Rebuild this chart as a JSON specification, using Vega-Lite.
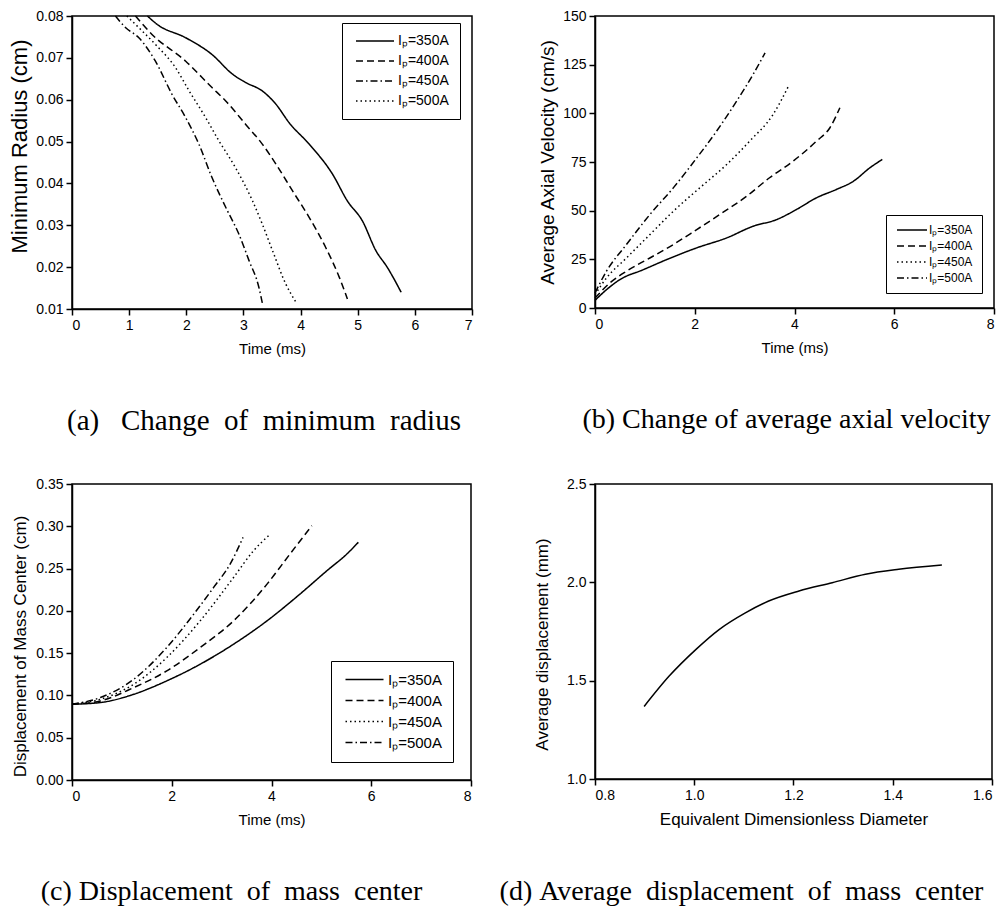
{
  "$schema": "https://vega.github.io/schema/vega-lite/v6.json",
  "padding": {"left": 7, "top": 8, "right": 5, "bottom": 5},
  "background": "white",
  "config": {
    "view": {"stroke": "black", "strokeWidth": 1.5},
    "axis": {"domainColor": "black", "domainWidth": 1.5, "tickColor": "black", "tickWidth": 1.5, "tickSize": 6, "labelColor": "black", "labelFont": "Liberation Sans", "labelFontSize": 14, "labelPadding": 3, "titleColor": "black", "titleFont": "Liberation Sans", "titleFontWeight": "normal", "grid": false},
    "axisX": {"titleFontSize": 15, "titlePadding": 9},
    "axisY": {"titleFontSize": 18, "titleBaseline": "middle"},
    "title": {"font": "Liberation Serif", "fontSize": 28, "fontWeight": "normal", "color": "black", "baseline": "alphabetic"},
    "legend": {"symbolFillColor": "transparent", "symbolStrokeColor": "black", "symbolStrokeWidth": 1.5, "labelFont": "Liberation Sans", "labelColor": "black", "strokeColor": "black", "fillColor": "white"}
  },
  "datasets": {
    "a": [
      {"I":"350","t":1.32,"v":0.080},{"I":"350","t":1.49,"v":0.0780},{"I":"350","t":1.99,"v":0.0748},{"I":"350","t":2.45,"v":0.0708},{"I":"350","t":2.81,"v":0.0661},{"I":"350","t":3.04,"v":0.0641},{"I":"350","t":3.33,"v":0.0621},{"I":"350","t":3.57,"v":0.0589},{"I":"350","t":3.80,"v":0.0545},{"I":"350","t":4.15,"v":0.0494},{"I":"350","t":4.56,"v":0.0422},{"I":"350","t":4.82,"v":0.0358},{"I":"350","t":5.08,"v":0.0311},{"I":"350","t":5.32,"v":0.0239},{"I":"350","t":5.52,"v":0.0199},{"I":"350","t":5.76,"v":0.0140},
      {"I":"400","t":1.11,"v":0.080},{"I":"400","t":1.40,"v":0.0756},{"I":"400","t":1.99,"v":0.0692},{"I":"400","t":2.45,"v":0.0629},{"I":"400","t":2.69,"v":0.0597},{"I":"400","t":3.04,"v":0.0541},{"I":"400","t":3.33,"v":0.0494},{"I":"400","t":3.57,"v":0.0446},{"I":"400","t":3.86,"v":0.0382},{"I":"400","t":4.15,"v":0.0319},{"I":"400","t":4.44,"v":0.0247},{"I":"400","t":4.68,"v":0.0175},{"I":"400","t":4.82,"v":0.0124},
      {"I":"450","t":0.76,"v":0.080},{"I":"450","t":0.94,"v":0.0772},{"I":"450","t":1.17,"v":0.0748},{"I":"450","t":1.46,"v":0.0692},{"I":"450","t":1.75,"v":0.0613},{"I":"450","t":1.99,"v":0.0557},{"I":"450","t":2.22,"v":0.0494},{"I":"450","t":2.45,"v":0.0414},{"I":"450","t":2.69,"v":0.0343},{"I":"450","t":2.92,"v":0.0279},{"I":"450","t":3.10,"v":0.0215},{"I":"450","t":3.27,"v":0.0152},{"I":"450","t":3.34,"v":0.0108},
      {"I":"500","t":0.96,"v":0.080},{"I":"500","t":1.17,"v":0.0772},{"I":"500","t":1.46,"v":0.0732},{"I":"500","t":1.81,"v":0.0677},{"I":"500","t":2.05,"v":0.0621},{"I":"500","t":2.34,"v":0.0557},{"I":"500","t":2.57,"v":0.0502},{"I":"500","t":2.86,"v":0.0438},{"I":"500","t":3.16,"v":0.0358},{"I":"500","t":3.33,"v":0.0303},{"I":"500","t":3.51,"v":0.0239},{"I":"500","t":3.74,"v":0.0160},{"I":"500","t":3.92,"v":0.0116}
    ],
    "b": [
      {"I":"350","t":0,"v":3.9},{"I":"350","t":0.23,"v":9.4},{"I":"350","t":0.5,"v":14.6},{"I":"350","t":0.97,"v":19.7},{"I":"350","t":1.44,"v":24.9},{"I":"350","t":2.04,"v":30.9},{"I":"350","t":2.64,"v":36},{"I":"350","t":3.17,"v":42},{"I":"350","t":3.64,"v":45.4},{"I":"350","t":4.04,"v":50.6},{"I":"350","t":4.44,"v":56.6},{"I":"350","t":4.84,"v":60.9},{"I":"350","t":5.18,"v":65.1},{"I":"350","t":5.51,"v":72},{"I":"350","t":5.76,"v":76.3},
      {"I":"400","t":0,"v":5.1},{"I":"400","t":0.3,"v":12.9},{"I":"400","t":0.63,"v":18.9},{"I":"400","t":1.1,"v":25.7},{"I":"400","t":1.57,"v":32.6},{"I":"400","t":2.04,"v":40.3},{"I":"400","t":2.5,"v":48},{"I":"400","t":3.04,"v":57.4},{"I":"400","t":3.5,"v":66.9},{"I":"400","t":3.97,"v":75.4},{"I":"400","t":4.44,"v":85.7},{"I":"400","t":4.71,"v":92.6},{"I":"400","t":4.91,"v":102.9},
      {"I":"450","t":0,"v":6.9},{"I":"450","t":0.23,"v":15.4},{"I":"450","t":0.63,"v":25.7},{"I":"450","t":1.1,"v":37.7},{"I":"450","t":1.57,"v":49.7},{"I":"450","t":2.1,"v":61.7},{"I":"450","t":2.64,"v":73.7},{"I":"450","t":3.1,"v":85.7},{"I":"450","t":3.57,"v":99.4},{"I":"450","t":3.87,"v":113.5},
      {"I":"500","t":0,"v":7.7},{"I":"500","t":0.23,"v":18.9},{"I":"500","t":0.63,"v":32.6},{"I":"500","t":1.1,"v":48},{"I":"500","t":1.57,"v":61.7},{"I":"500","t":2.04,"v":77.1},{"I":"500","t":2.44,"v":90.9},{"I":"500","t":2.84,"v":106.3},{"I":"500","t":3.17,"v":120},{"I":"500","t":3.41,"v":131.1}
    ],
    "c": [
      {"I":"350","t":0,"v":0.0896},{"I":"350","t":0.57,"v":0.0916},{"I":"350","t":1.24,"v":0.1014},{"I":"350","t":1.9,"v":0.1172},{"I":"350","t":2.57,"v":0.1369},{"I":"350","t":3.24,"v":0.1606},{"I":"350","t":3.91,"v":0.1882},{"I":"350","t":4.57,"v":0.2198},{"I":"350","t":5.11,"v":0.2474},{"I":"350","t":5.51,"v":0.2672},{"I":"350","t":5.74,"v":0.281},
      {"I":"400","t":0,"v":0.0896},{"I":"400","t":0.57,"v":0.0935},{"I":"400","t":1.24,"v":0.1093},{"I":"400","t":1.9,"v":0.129},{"I":"400","t":2.57,"v":0.1567},{"I":"400","t":3.24,"v":0.1882},{"I":"400","t":3.91,"v":0.2316},{"I":"400","t":4.37,"v":0.2672},{"I":"400","t":4.81,"v":0.3007},
      {"I":"450","t":0,"v":0.0896},{"I":"450","t":0.57,"v":0.0955},{"I":"450","t":1.24,"v":0.1133},{"I":"450","t":1.9,"v":0.1448},{"I":"450","t":2.57,"v":0.1882},{"I":"450","t":3.24,"v":0.2395},{"I":"450","t":3.64,"v":0.2711},{"I":"450","t":3.94,"v":0.2888},
      {"I":"500","t":0,"v":0.0896},{"I":"500","t":0.57,"v":0.0975},{"I":"500","t":1.24,"v":0.1192},{"I":"500","t":1.9,"v":0.1567},{"I":"500","t":2.44,"v":0.1961},{"I":"500","t":2.84,"v":0.2277},{"I":"500","t":3.17,"v":0.2553},{"I":"500","t":3.43,"v":0.2869}
    ],
    "d": [
      {"x":0.899,"v":1.369},{"x":0.949,"v":1.522},{"x":1.003,"v":1.658},{"x":1.05,"v":1.76},{"x":1.103,"v":1.845},{"x":1.15,"v":1.905},{"x":1.211,"v":1.956},{"x":1.278,"v":1.998},{"x":1.345,"v":2.041},{"x":1.412,"v":2.066},{"x":1.499,"v":2.088}
    ]
  },
  "columns": 2,
  "bounds": "flush",
  "spacing": {"row": 175, "column": 123},
  "concat": [
    {
      "width": 400, "height": 293,
      "title": {"text": "(a)\u00a0\u00a0\u00a0Change\u00a0\u00a0of\u00a0\u00a0minimum\u00a0\u00a0radius", "orient": "bottom", "anchor": "middle", "frame": "group", "offset": 51, "dx": -8, "fontSize": 29},
      "data": {"name": "a"},
      "mark": {"type": "line", "color": "black", "strokeWidth": 1.5, "interpolate": "monotone"},
      "encoding": {
        "x": {"field": "t", "type": "quantitative", "title": "Time (ms)", "scale": {"domain": [0, 7], "nice": false, "zero": false}, "axis": {"values": [0,1,2,3,4,5,6,7], "format": "d"}},
        "y": {"field": "v", "type": "quantitative", "title": "Minimum Radius (cm)", "scale": {"domain": [0.01, 0.08], "nice": false, "zero": false}, "axis": {"values": [0.01,0.02,0.03,0.04,0.05,0.06,0.07,0.08], "format": ".2f", "titleX": -53, "titleY": 130, "titleFontSize": 22}},
        "strokeDash": {"field": "I", "type": "nominal", "scale": {"domain": ["350","400","450","500"], "range": [[1,0],[7,4],[7,3,1.5,3],[1.5,3]]},
          "legend": {"orient": "none", "legendX": 270, "legendY": 7, "title": null, "labelExpr": "'I\u209a=' + datum.label + 'A'", "symbolType": "M-1,0H8.5", "symbolSize": 64, "labelFontSize": 14, "labelOffset": 31, "padding": 11, "rowPadding": 6}}
      }
    },
    {
      "width": 399, "height": 292,
      "title": {"text": "(b)\u00a0Change\u00a0of\u00a0average\u00a0axial\u00a0velocity", "orient": "bottom", "anchor": "middle", "frame": "group", "offset": 51, "dx": -8},
      "data": {"name": "b"},
      "mark": {"type": "line", "color": "black", "strokeWidth": 1.5, "interpolate": "monotone"},
      "encoding": {
        "x": {"field": "t", "type": "quantitative", "title": "Time (ms)", "scale": {"domain": [0, 8], "nice": false, "zero": false}, "axis": {"values": [0,2,4,6,8], "format": "d"}},
        "y": {"field": "v", "type": "quantitative", "title": "Average Axial Velocity (cm/s)", "scale": {"domain": [0, 150], "nice": false, "zero": false}, "axis": {"values": [0,25,50,75,100,125,150], "format": "d", "titleX": -48, "titleFontSize": 19}},
        "strokeDash": {"field": "I", "type": "nominal", "scale": {"domain": ["350","400","450","500"], "range": [[1,0],[7,4],[1.5,3],[7,3,1.5,3]]},
          "legend": {"orient": "none", "legendX": 291, "legendY": 199, "title": null, "labelExpr": "'I\u209a=' + datum.label + 'A'", "symbolType": "M-1,0H6.5", "symbolSize": 64, "labelFontSize": 12, "labelOffset": 22, "padding": 9, "rowPadding": 4}}
      }
    },
    {
      "width": 399, "height": 296,
      "title": {"text": "(c)\u00a0Displacement\u00a0\u00a0of\u00a0\u00a0mass\u00a0\u00a0center", "orient": "bottom", "anchor": "middle", "frame": "group", "offset": 51, "dx": -40},
      "data": {"name": "c"},
      "mark": {"type": "line", "color": "black", "strokeWidth": 1.5, "interpolate": "monotone"},
      "encoding": {
        "x": {"field": "t", "type": "quantitative", "title": "Time (ms)", "scale": {"domain": [0, 8], "nice": false, "zero": false}, "axis": {"values": [0,2,4,6,8], "format": "d"}},
        "y": {"field": "v", "type": "quantitative", "title": "Displacement of Mass Center (cm)", "scale": {"domain": [0, 0.35], "nice": false, "zero": false}, "axis": {"values": [0,0.05,0.1,0.15,0.2,0.25,0.3,0.35], "format": ".2f", "titleX": -52, "titleY": 162, "titleFontSize": 17}},
        "strokeDash": {"field": "I", "type": "nominal", "scale": {"domain": ["350","400","450","500"], "range": [[1,0],[7,4],[1.5,3],[7,3,1.5,3]]},
          "legend": {"orient": "none", "legendX": 259, "legendY": 177, "title": null, "labelExpr": "'I\u209a=' + datum.label + 'A'", "symbolType": "M-1,0H8.5", "symbolSize": 64, "labelFontSize": 15, "labelOffset": 31, "padding": 11, "rowPadding": 5}}
      }
    },
    {
      "width": 397, "height": 295,
      "title": {"text": "(d)\u00a0Average\u00a0\u00a0displacement\u00a0\u00a0of\u00a0\u00a0mass\u00a0\u00a0center", "orient": "bottom", "anchor": "middle", "frame": "group", "offset": 51, "dx": -52},
      "data": {"name": "d"},
      "mark": {"type": "line", "color": "black", "strokeWidth": 1.5, "interpolate": "monotone"},
      "encoding": {
        "x": {"field": "x", "type": "quantitative", "title": "Equivalent Dimensionless Diameter", "scale": {"domain": [0.8, 1.6], "nice": false, "zero": false}, "axis": {"values": [0.8,1.0,1.2,1.4,1.6], "format": ".1f", "titleFontSize": 17}},
        "y": {"field": "v", "type": "quantitative", "title": "Average displacement (mm)", "scale": {"domain": [1.0, 2.5], "nice": false, "zero": false}, "axis": {"values": [1.0,1.5,2.0,2.5], "format": ".1f", "titleX": -53, "titleY": 160, "titleFontSize": 17}}
      }
    }
  ],
  "resolve": {"scale": {"strokeDash": "independent"}, "legend": {"strokeDash": "independent"}}
}
